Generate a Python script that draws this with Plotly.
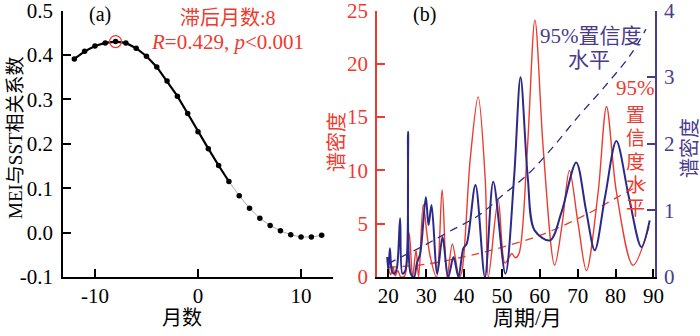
import plotly.graph_objects as go

W, H = 700, 336
FONT = "'Times New Roman', 'Liberation Serif', 'Noto Sans CJK SC', serif"
RED = "#ee3a2f"
BLUE = "#2c2a88"
PURPLE = "#4a3b8d"

# ---------------- panel (a) data ----------------
lag_months = list(range(-12, 13))
corr = [0.391, 0.408, 0.420, 0.427, 0.430, 0.427, 0.415, 0.397, 0.373, 0.341,
        0.307, 0.268, 0.227, 0.189, 0.151, 0.115, 0.083, 0.055, 0.032, 0.016,
        0.004, -0.005, -0.010, -0.010, -0.006]
best_lag = -8
best_r = 0.430
a_xticks = [-10, 0, 10]
a_xticklabels = ["-10", "0", "10"]
a_yticks = [-0.1, 0.0, 0.1, 0.2, 0.3, 0.4, 0.5]
a_yticklabels = ["-0.1", "0.0", "0.1", "0.2", "0.3", "0.4", "0.5"]

# ---------------- panel (b) data ----------------
red_period = [20.0, 20.6, 21.2, 21.8, 22.5, 23.3, 24.3, 25.5, 26.4, 27.3, 28.0, 29.2,
              30.2, 31.0, 32.7, 34.2, 35.5, 36.9, 38.7, 39.4, 41.6, 43.7, 45.6, 46.4,
              49.0, 50.8, 52.6, 53.5, 54.5, 56.7, 58.7, 60.9, 63.9, 65.9, 67.8, 70.1,
              72.3, 75.4, 77.6, 80.2, 84.6, 88.8]
red_power = [0.9, 0.2, 1.0, 0.1, 0.6, 0.0, 0.1, 4.1, 0.0, 2.5, 0.0, 6.8,
             4.0, 2.0, 0.0, 8.2, 0.0, 3.1, 0.0, 0.5, 11.0, 16.9, 9.0, 0.0,
             7.2, 1.3, 2.2, 1.8, 2.2, 12.0, 24.1, 12.0, 1.1, 5.0, 10.0, 5.0,
             0.6, 8.0, 16.0, 8.0, 1.1, 4.7]

blue_period = [19.7, 20.0, 20.4, 20.9, 21.5, 22.2, 23.1, 23.7, 24.5, 25.2, 25.9, 26.8,
               27.5, 28.4, 29.9, 30.6, 31.4, 32.9, 34.3, 35.8, 37.2, 38.5, 39.8, 40.7,
               43.0, 45.5, 47.7, 50.9, 53.2, 54.9, 56.8, 58.6, 62.7, 65.7, 69.6, 72.2,
               74.5, 77.2, 80.2, 83.5, 86.8, 89.0]
blue_power = [0.3, 0.1, 0.43, 0.1, 0.05, 0.12, 0.88, 0.05, 0.1, 2.18, 0.05, 0.0,
              0.2, 0.35, 1.2, 0.78, 1.08, 0.05, 0.6, 0.0, 0.3, 0.0, 0.43, 0.5,
              1.38, 0.0, 1.43, 0.05, 1.5, 3.0, 1.5, 0.7, 0.55, 0.97, 1.72, 1.0,
              0.4, 1.2, 2.04, 1.2, 0.45, 0.85]

red_sig_period = [20, 30, 40, 47, 60, 73, 80, 88.5]
red_sig = [0.9, 1.2, 1.9, 2.5, 3.9, 6.0, 7.4, 9.0]
blue_sig_period = [20, 22, 29, 36, 44, 50, 57, 63, 70, 77, 84, 88]
blue_sig = [0.2, 0.26, 0.46, 0.68, 0.93, 1.22, 1.55, 1.92, 2.4, 2.85, 3.34, 3.72]

b_xticks = [20, 30, 40, 50, 60, 70, 80, 90]
b_lticks = [0, 5, 10, 15, 20, 25]
b_rticks = [0, 1, 2, 3, 4]

fig = go.Figure()

# panel a
fig.add_trace(go.Scatter(x=lag_months[:16], y=corr[:16], mode="lines",
                         line=dict(color="black", width=2.2), xaxis="x", yaxis="y",
                         showlegend=False))
fig.add_trace(go.Scatter(x=lag_months[15:], y=corr[15:], mode="lines",
                         line=dict(color="#aaaaaa", width=1), xaxis="x", yaxis="y",
                         showlegend=False))
fig.add_trace(go.Scatter(x=lag_months, y=corr, mode="markers",
                         marker=dict(color="black", size=5.5), xaxis="x", yaxis="y",
                         showlegend=False))
fig.add_trace(go.Scatter(x=[best_lag], y=[best_r], mode="markers",
                         marker=dict(symbol="circle-open", color=RED, size=12,
                                     line=dict(width=1.3, color=RED)),
                         xaxis="x", yaxis="y", showlegend=False))

# panel b
fig.add_trace(go.Scatter(x=red_sig_period, y=red_sig, mode="lines",
                         line=dict(color=RED, width=1.3, dash="8px,6px", shape="spline"),
                         xaxis="x2", yaxis="y2", showlegend=False))
fig.add_trace(go.Scatter(x=red_period, y=red_power, mode="lines",
                         line=dict(color=RED, width=1.4, shape="spline", smoothing=0.9),
                         xaxis="x2", yaxis="y2", showlegend=False))
fig.add_trace(go.Scatter(x=blue_sig_period, y=blue_sig, mode="lines",
                         line=dict(color=BLUE, width=1.3, dash="8px,6px", shape="spline"),
                         xaxis="x2", yaxis="y3", showlegend=False))
fig.add_trace(go.Scatter(x=blue_period, y=blue_power, mode="lines",
                         line=dict(color=BLUE, width=2, shape="spline", smoothing=0.9),
                         xaxis="x2", yaxis="y3", showlegend=False))

ydom = [1 - 277 / H, 1 - 10.5 / H]
axis_common = dict(showgrid=False, zeroline=False, showline=True, ticks="inside",
                   ticklen=8, tickwidth=1.5, linewidth=1.5, mirror=False,
                   ticklabeloverflow="allow")

fig.update_layout(
    width=W, height=H,
    margin=dict(l=0, r=0, t=0, b=0, autoexpand=False),
    paper_bgcolor="white", plot_bgcolor="white",
    font=dict(family=FONT),
    xaxis=dict(axis_common, domain=[63 / W, 333 / W], range=[-13.1, 13.1],
               tickvals=a_xticks, ticktext=a_xticklabels, linecolor="black",
               tickcolor="black", anchor="y", ticklabelstandoff=-1,
               tickfont=dict(family=FONT, size=21, color="black")),
    yaxis=dict(axis_common, domain=ydom, range=[-0.1, 0.5], tickvals=a_yticks,
               ticktext=a_yticklabels, linecolor="black", tickcolor="black", anchor="x",
               tickfont=dict(family=FONT, size=21, color="black"), ticklabelstandoff=4),
    xaxis2=dict(axis_common, domain=[377 / W, 655 / W], range=[17, 90.4],
                tickvals=b_xticks, linecolor="black", tickcolor="black", anchor="y2",
                ticklabelstandoff=-1,
                tickfont=dict(family=FONT, size=21, color="black")),
    yaxis2=dict(axis_common, domain=ydom, range=[0, 25], tickvals=b_lticks,
                linecolor=RED, tickcolor=RED, anchor="x2", side="left",
                tickfont=dict(family=FONT, size=21, color=RED), ticklabelstandoff=3),
    yaxis3=dict(axis_common, range=[0, 4], tickvals=b_rticks, overlaying="y2",
                linecolor=PURPLE, tickcolor=PURPLE, anchor="x2", side="right",
                tickfont=dict(family=FONT, size=21, color=PURPLE), ticklabelstandoff=3),
)

def px_ann(x, y, text, color="black", size=20, angle=0, **kw):
    fig.add_annotation(x=x / W, y=1 - y / H, xref="paper", yref="paper", text=text,
                       showarrow=False, textangle=angle, xanchor="center",
                       yanchor="middle",
                       font=dict(family=FONT, size=size, color=color), **kw)

px_ann(100, 15, "(a)", size=20)
px_ann(228, 18, "滞后月数:8", RED, 20)
px_ann(227, 42, "<i>R</i>=0.429, <i>p</i>&lt;0.001", RED, 21)
px_ann(15, 138, "MEI与SST相关系数", "black", 19, angle=-90)
px_ann(182, 318, "月数", "black", 20)

px_ann(424, 15, "(b)", size=20)
px_ann(591, 36, "95%置信度", PURPLE, 21)
px_ann(589, 60, "水平", PURPLE, 21)
px_ann(635, 88, "95%", RED, 21)
for ch, yy in zip("置信度水平", [115, 138, 162, 185, 208]):
    px_ann(635, yy, ch, RED, 19)
px_ann(337, 142, "谱密度", RED, 20, angle=-90)
px_ann(690, 148, "谱密度", PURPLE, 20, angle=-90)
px_ann(527, 318, "周期/月", "black", 21)

fig.write_html("out.html", config={"displayModeBar": False},
               post_script="document.body.style.margin='0';document.body.style.overflow='hidden';")
